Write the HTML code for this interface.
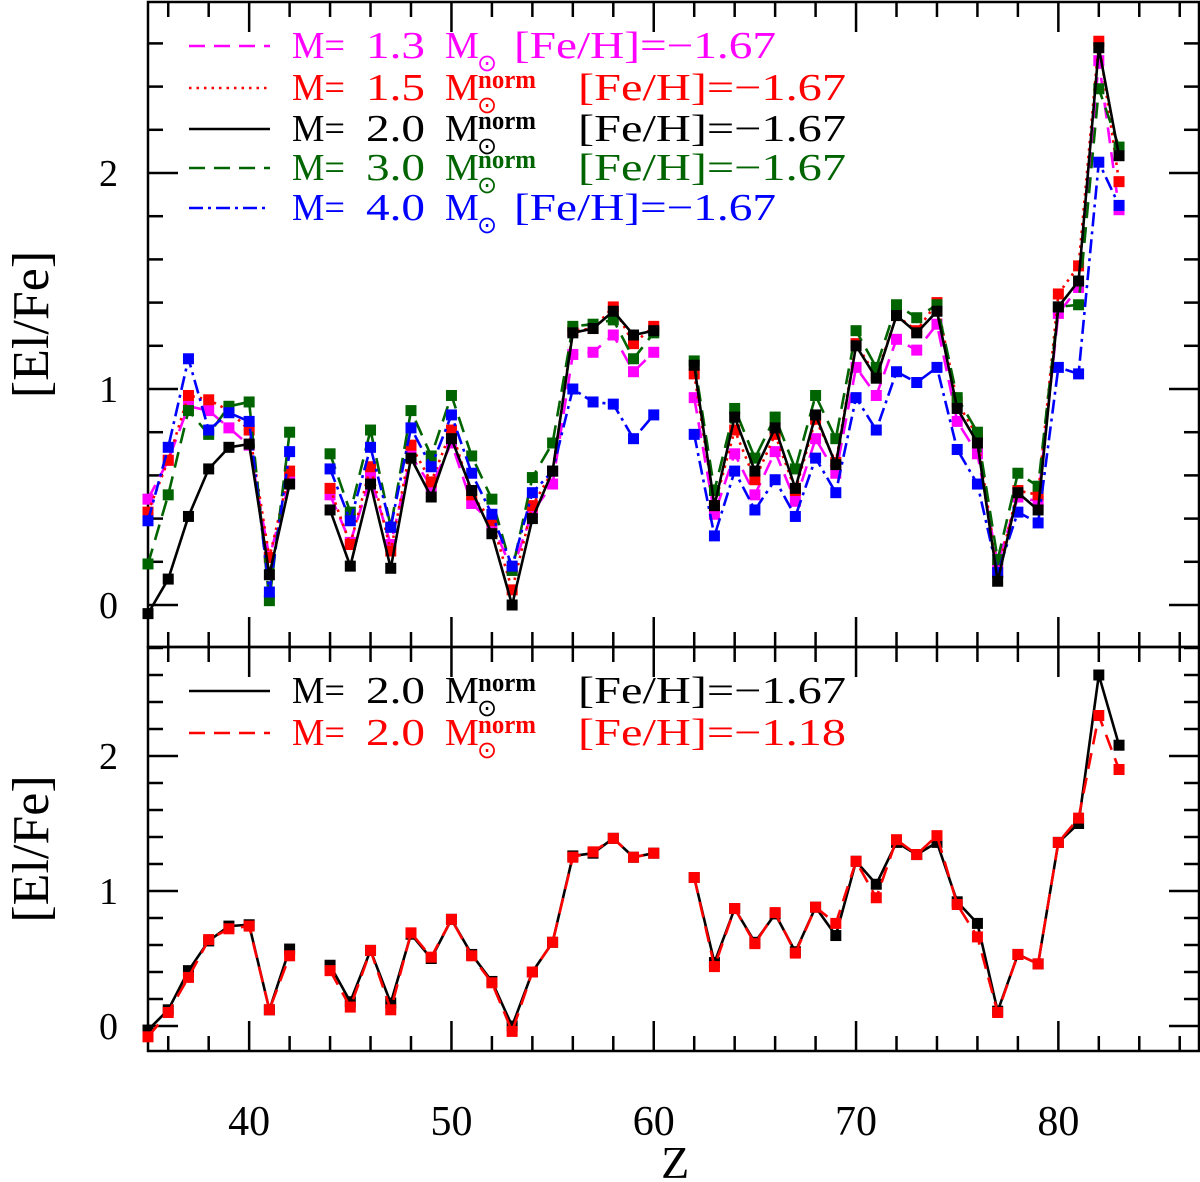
<!DOCTYPE html>
<html><head><meta charset="utf-8"><style>
html,body{margin:0;padding:0;background:#fff;}
svg{display:block;font-family:"Liberation Serif",serif;}
</style></head><body>
<svg id="chart" width="1200" height="1182" viewBox="0 0 1200 1182" xmlns="http://www.w3.org/2000/svg">
<g id="frames"></g>
<g id="marks"></g>
<g id="legends"></g>
</svg>
<script>
const zTop = [35,36,37,38,39,40,41,42,44,45,46,47,48,49,50,51,52,53,54,55,56,57,58,59,60,62,63,64,65,66,67,68,69,70,71,72,73,74,75,76,77,78,79,80,81,82,83];
const m13 = [0.49,0.67,0.92,0.90,0.82,0.74,0.22,0.57,0.51,0.29,0.59,0.28,0.69,0.55,0.75,0.47,0.38,0.16,0.43,0.56,1.16,1.17,1.25,1.08,1.17,0.96,0.42,0.70,0.51,0.71,0.48,0.77,0.61,1.10,0.97,1.23,1.18,1.30,0.85,0.70,0.19,0.50,0.48,1.35,1.47,2.52,1.83];
const m15 = [0.43,0.67,0.97,0.95,0.90,0.81,0.22,0.62,0.54,0.28,0.64,0.25,0.74,0.57,0.81,0.51,0.39,0.07,0.46,0.62,1.27,1.28,1.38,1.21,1.29,1.07,0.46,0.81,0.58,0.79,0.53,0.86,0.66,1.21,1.06,1.34,1.27,1.40,0.94,0.78,0.15,0.53,0.51,1.44,1.57,2.61,1.96];
const m20 = [-0.04,0.12,0.41,0.63,0.73,0.745,0.14,0.56,0.44,0.18,0.56,0.17,0.68,0.50,0.77,0.53,0.33,0.0,0.40,0.62,1.26,1.28,1.36,1.25,1.27,1.11,0.46,0.87,0.62,0.82,0.54,0.88,0.65,1.20,1.05,1.34,1.26,1.36,0.91,0.75,0.11,0.52,0.44,1.38,1.50,2.58,2.08];
const m30 = [0.19,0.51,0.90,0.79,0.92,0.94,0.02,0.80,0.70,0.43,0.81,0.36,0.90,0.69,0.97,0.69,0.49,0.16,0.59,0.75,1.29,1.30,1.32,1.14,1.26,1.13,0.53,0.91,0.68,0.87,0.63,0.97,0.77,1.27,1.10,1.39,1.33,1.39,0.96,0.80,0.21,0.61,0.55,1.38,1.39,2.39,2.12];
const m40 = [0.39,0.73,1.14,0.81,0.89,0.85,0.06,0.71,0.63,0.39,0.73,0.36,0.82,0.64,0.88,0.61,0.42,0.18,0.52,0.62,1.00,0.94,0.93,0.77,0.88,0.79,0.32,0.62,0.44,0.58,0.41,0.68,0.52,0.96,0.81,1.08,1.03,1.10,0.72,0.56,0.15,0.43,0.38,1.10,1.07,2.05,1.85];
const m20b = [-0.03,0.12,0.41,0.63,0.74,0.75,0.12,0.57,0.45,0.18,0.56,0.17,0.68,0.50,0.79,0.53,0.33,0.0,0.40,0.62,1.26,1.28,1.39,1.25,1.28,1.10,0.47,0.87,0.62,0.83,0.55,0.88,0.67,1.22,1.05,1.36,1.27,1.36,0.92,0.76,0.11,0.53,0.46,1.36,1.50,2.60,2.08];
const m20r = [-0.08,0.10,0.36,0.64,0.72,0.74,0.12,0.52,0.41,0.14,0.56,0.12,0.69,0.51,0.79,0.52,0.32,-0.04,0.40,0.62,1.25,1.29,1.39,1.25,1.28,1.10,0.44,0.87,0.61,0.84,0.54,0.88,0.76,1.22,0.95,1.38,1.27,1.41,0.90,0.66,0.10,0.53,0.46,1.36,1.54,2.30,1.90];
const xTicks = [40,50,60,70,80];
const yTicks = [0,1,2];

const NS="http://www.w3.org/2000/svg";
const X0=148, XL=1199;
const sx = z => 148 + (z-35)*20.23;
const syT = v => 605 - v*216;
const syB = v => 1026 - v*135;
function el(tag, attrs, parent){const e=document.createElementNS(NS,tag);for(const k in attrs)e.setAttribute(k,attrs[k]);parent.appendChild(e);return e;}
const frames=document.getElementById('frames'), marks=document.getElementById('marks'), legends=document.getElementById('legends');

function panel(name, top, bot, sy, vmin, vmax){
  const g=el('g',{},frames);
  
  
  el('rect',{x:X0,y:top,width:XL-X0,height:bot-top,fill:'none',stroke:'#000','stroke-width':2.5},g);
  for(let z=36; z<=86; z+=2){
    const major = z%10===0;
    const len = major?30:15;
    el('line',{x1:sx(z),x2:sx(z),y1:bot,y2:bot-len,stroke:'#000','stroke-width':2.5},g);
    el('line',{x1:sx(z),x2:sx(z),y1:top,y2:top+len,stroke:'#000','stroke-width':2.5},g);
  }
  for(let i=Math.ceil(vmin*5); i<=Math.floor(vmax*5); i++){
    const v=i/5, major = i%5===0, len = major?30:15, y=sy(v);
    el('line',{x1:X0,x2:X0+len,y1:y,y2:y,stroke:'#000','stroke-width':2.5},g);
    el('line',{x1:XL,x2:XL-len,y1:y,y2:y,stroke:'#000','stroke-width':2.5},g);
  }
  yTicks.forEach(v=>{
    const t=el('text',{x:118,y:sy(v)+13,'font-size':38,'text-anchor':'end'},g);
    
    
    t.textContent=v;
  });
  const mid=(top+bot)/2;
  const yt=el('text',{x:0,y:0,'font-size':52,'text-anchor':'middle',transform:`translate(48,${mid}) rotate(-90)`},g);
  
  
  yt.textContent='[El/Fe]';
}
panel('top-panel',2,647,syT,-0.17,2.79);
panel('bottom-panel',647,1051,syB,-0.18,2.81);
xTicks.forEach(z=>{
  const t=el('text',{x:sx(z),y:1135,'font-size':42,'text-anchor':'middle'},frames);
  
  
  t.textContent=z;
});
const xt=el('text',{x:sx(40)+426,y:1178,'font-size':46,'text-anchor':'middle'},frames);


xt.textContent='Z';

function series(name, vals, sy, color, dash){
  const g=el('g',{},marks);
  
  
  let segs=[[]];
  zTop.forEach((z,i)=>{
    if(i>0 && z-zTop[i-1]>1) segs.push([]);
    segs[segs.length-1].push([sx(z),sy(vals[i])]);
  });
  segs.forEach(s=>{
    const p=el('polyline',{points:s.map(q=>q.join(',')).join(' '),fill:'none',stroke:color,'stroke-width':2.6},g);
    if(dash) p.setAttribute('stroke-dasharray',dash);
  });
  zTop.forEach((z,i)=>{
    const r=el('rect',{x:sx(z)-5.5,y:sy(vals[i])-5.5,width:11,height:11,fill:color},g);
    
    
  });
}
series('series-m13',m13,syT,'#ff00ff','16,9');
series('series-m15',m15,syT,'#ff0000','2.5,5');
series('series-m30',m30,syT,'#006400','16,9');
series('series-m40',m40,syT,'#0000ff','14,5,3,5');
series('series-m20',m20,syT,'#000000',null);
series('series-m20-feh167',m20b,syB,'#000000',null);
series('series-m20-feh118',m20r,syB,'#ff0000','16,9');

function legend(name,y,color,dash,mass,norm,fehX,feh){
  const g=el('g',{},legends);
  
  
  const ln=el('line',{x1:189,x2:270,y1:y-12,y2:y-12,stroke:color,'stroke-width':2.6},g);
  if(dash) ln.setAttribute('stroke-dasharray',dash);
  const f={fill:color};
  el('text',Object.assign({x:292,y:y,'font-size':38,textLength:53,lengthAdjust:'spacingAndGlyphs'},f),g).textContent='M=';
  el('text',Object.assign({x:366,y:y,'font-size':38,textLength:59,lengthAdjust:'spacingAndGlyphs'},f),g).textContent=mass;
  el('text',Object.assign({x:445,y:y,'font-size':38},f),g).textContent='M';
  el('text',Object.assign({x:477,y:y+13,'font-size':24},f),g).textContent='⊙';
  if(norm) el('text',Object.assign({x:478,y:y-12,'font-size':26,'font-weight':'bold',textLength:58,lengthAdjust:'spacingAndGlyphs'},f),g).textContent='norm';
  el('text',Object.assign({x:fehX,y:y,'font-size':38,textLength:(norm?268:262),lengthAdjust:'spacingAndGlyphs'},f),g).textContent=feh;
}
legend('legend-entry-m13',58,'#ff00ff','16,9','1.3',false,514,'[Fe/H]=−1.67');
legend('legend-entry-m15',100,'#ff0000','2.5,5','1.5',true,578,'[Fe/H]=−1.67');
legend('legend-entry-m20',141,'#000000',null,'2.0',true,578,'[Fe/H]=−1.67');
legend('legend-entry-m30',180,'#006400','16,9','3.0',true,578,'[Fe/H]=−1.67');
legend('legend-entry-m40',220,'#0000ff','14,5,3,5','4.0',false,514,'[Fe/H]=−1.67');
legend('legend-entry-bottom-feh167',703,'#000000',null,'2.0',true,578,'[Fe/H]=−1.67');
legend('legend-entry-bottom-feh118',745,'#ff0000','16,9','2.0',true,578,'[Fe/H]=−1.18');
</script>
</body></html>
